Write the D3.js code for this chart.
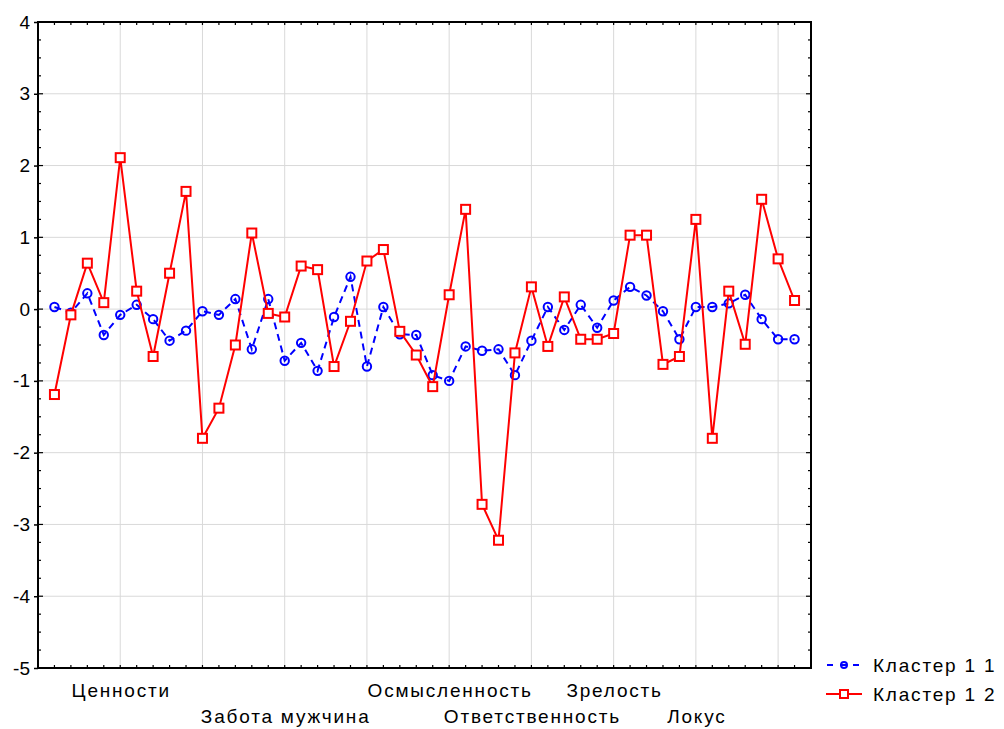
<!DOCTYPE html>
<html>
<head>
<meta charset="utf-8">
<script src="https://cdn.jsdelivr.net/npm/d3@7"></script>
<style>
  html, body { margin: 0; padding: 0; background: #fff; }
  svg { display: block; font-family: "Liberation Sans", Arial, sans-serif; }
</style>
</head>
<body>
<svg id="chart" width="1004" height="729"></svg>
<script>
// Category labels placed on the major x ticks (tick position, label, row)
const tickPositions = [5, 15, 25, 30, 35, 40];
const tickLabels = ["Ценности", "Забота мужчина", "Осмысленность", "Ответственность", "Зрелость", "Локус"];
const tickRows = [0, 1, 0, 1, 0, 1];

const seriesNames = ["Кластер 1 1", "Кластер 1 2"];

// Mean profile of each cluster, 46 variables
const cluster11 = [
  0.03, -0.05, 0.22, -0.36, -0.08, 0.06, -0.14, -0.44, -0.30, -0.03,
  -0.08, 0.14, -0.56, 0.14, -0.72, -0.47, -0.86, -0.11, 0.45, -0.80,
  0.03, -0.35, -0.36, -0.92, -1.00, -0.52, -0.58, -0.56, -0.92, -0.44,
  0.03, -0.29, 0.06, -0.26, 0.12, 0.31, 0.19, -0.03, -0.42, 0.03,
  0.03, 0.08, 0.20, -0.14, -0.42, -0.42
];
const cluster12 = [
  -1.19, -0.08, 0.64, 0.09, 2.11, 0.25, -0.66, 0.50, 1.64, -1.80,
  -1.38, -0.50, 1.06, -0.06, -0.11, 0.60, 0.55, -0.80, -0.17, 0.67,
  0.83, -0.31, -0.64, -1.08, 0.20, 1.39, -2.72, -3.22, -0.61, 0.31,
  -0.52, 0.17, -0.42, -0.42, -0.34, 1.03, 1.03, -0.77, -0.66, 1.25,
  -1.80, 0.25, -0.49, 1.53, 0.70, 0.12
];

const yTicks = [4, 3, 2, 1, 0, -1, -2, -3, -4, -5];

const svg = d3.select("#chart");
const pL = 38, pR = 811, pT = 22, pB = 668;

const x = d3.scaleLinear().domain([0, cluster11.length + 1]).range([pL, pR]);
const y = d3.scaleLinear().domain([-5, 4]).range([pB, pT]);

const blue = "#0000ff", red = "#ff0000";

// grid
const grid = svg.append("g");
grid.selectAll("line.h").data(yTicks.filter(d => d > -5 && d < 4)).join("line")
  .attr("x1", pL).attr("x2", pR)
  .attr("y1", d => y(d)).attr("y2", d => y(d))
  .attr("stroke", "#d9d9d9").attr("stroke-width", 1);
const vGrid = d3.range(5, cluster11.length + 1, 5);
grid.selectAll("line.v").data(vGrid).join("line")
  .attr("y1", pT).attr("y2", pB)
  .attr("x1", d => x(d)).attr("x2", d => x(d))
  .attr("stroke", "#d9d9d9").attr("stroke-width", 1);

// y axis (left) with labels
const yAxis = d3.axisLeft(y).tickValues(yTicks).tickSize(4).tickFormat(d => String(d));
const gy = svg.append("g").attr("transform", `translate(${pL},0)`).call(yAxis);
gy.select(".domain").remove();
gy.selectAll("line").attr("stroke", "#000").attr("stroke-width", 1.5);
gy.selectAll("text").attr("font-size", 19).attr("fill", "#000")
  .attr("font-family", "Liberation Sans, Arial, sans-serif").attr("dx", "-1");

// minor ticks on all four sides
const minorY = d3.range(-5, 4.001, 0.25);
const idx = d3.range(1, cluster11.length + 1);
const ticksG = svg.append("g").attr("stroke", "#000");
ticksG.selectAll("line.ml").data(minorY).join("line")
  .attr("x1", pL).attr("x2", d => pL + (Number.isInteger(d) ? 5 : 3))
  .attr("y1", d => y(d)).attr("y2", d => y(d)).attr("stroke-width", 1.2);
ticksG.selectAll("line.mr").data(minorY).join("line")
  .attr("x1", pR).attr("x2", d => pR - (Number.isInteger(d) ? 5 : 3))
  .attr("y1", d => y(d)).attr("y2", d => y(d)).attr("stroke-width", 1.2);
ticksG.selectAll("line.mb").data(idx).join("line")
  .attr("x1", d => x(d)).attr("x2", d => x(d))
  .attr("y1", pB).attr("y2", pB - 3).attr("stroke-width", 1.2);
ticksG.selectAll("line.mt").data(idx).join("line")
  .attr("x1", d => x(d)).attr("x2", d => x(d))
  .attr("y1", pT).attr("y2", pT + 3).attr("stroke-width", 1.2);

// frame
svg.append("rect").attr("x", pL).attr("y", pT)
  .attr("width", pR - pL).attr("height", pB - pT)
  .attr("fill", "none").attr("stroke", "#000").attr("stroke-width", 2);

// x category labels in two staggered rows
svg.append("g").selectAll("text").data(tickPositions).join("text")
  .attr("x", d => x(d) + 1)
  .attr("y", (d, i) => tickRows[i] === 0 ? 697 : 723)
  .attr("text-anchor", "middle")
  .attr("font-size", 19).attr("letter-spacing", 1.8).attr("fill", "#000")
  .text((d, i) => tickLabels[i]);

const line = d3.line().x((d, i) => x(i + 1)).y(d => y(d));

// Cluster 1 1: dashed blue with open circles
svg.append("path").datum(cluster11).attr("d", line)
  .attr("fill", "none").attr("stroke", blue).attr("stroke-width", 2)
  .attr("stroke-dasharray", "7,5");
svg.append("g").selectAll("circle").data(cluster11).join("circle")
  .attr("cx", (d, i) => x(i + 1)).attr("cy", d => y(d)).attr("r", 4.2)
  .attr("fill", "none").attr("stroke", blue).attr("stroke-width", 2);

// Cluster 1 2: solid red with open squares
svg.append("path").datum(cluster12).attr("d", line)
  .attr("fill", "none").attr("stroke", red).attr("stroke-width", 2);
const sq = 9;
svg.append("g").selectAll("rect").data(cluster12).join("rect")
  .attr("x", (d, i) => x(i + 1) - sq / 2).attr("y", d => y(d) - sq / 2)
  .attr("width", sq).attr("height", sq)
  .attr("fill", "#fff").attr("stroke", red).attr("stroke-width", 2);

// legend
const lg = svg.append("g");
const ly = [665, 694];
lg.append("line").attr("x1", 826).attr("x2", 862).attr("y1", ly[0]).attr("y2", ly[0])
  .attr("stroke", blue).attr("stroke-width", 2).attr("stroke-dasharray", "6,7")
  .attr("stroke-dashoffset", -1);
lg.append("circle").attr("cx", 844).attr("cy", ly[0]).attr("r", 3)
  .attr("fill", "none").attr("stroke", blue).attr("stroke-width", 2);
lg.append("line").attr("x1", 826).attr("x2", 862).attr("y1", ly[1]).attr("y2", ly[1])
  .attr("stroke", red).attr("stroke-width", 2);
lg.append("rect").attr("x", 840).attr("y", ly[1] - 4).attr("width", 8).attr("height", 8)
  .attr("fill", "#fff").attr("stroke", red).attr("stroke-width", 2);
lg.selectAll("text").data(seriesNames).join("text")
  .attr("x", 873).attr("y", (d, i) => ly[i] + 7)
  .attr("font-size", 19).attr("letter-spacing", 1.8).attr("fill", "#000")
  .text(d => d);
</script>
</body>
</html>
